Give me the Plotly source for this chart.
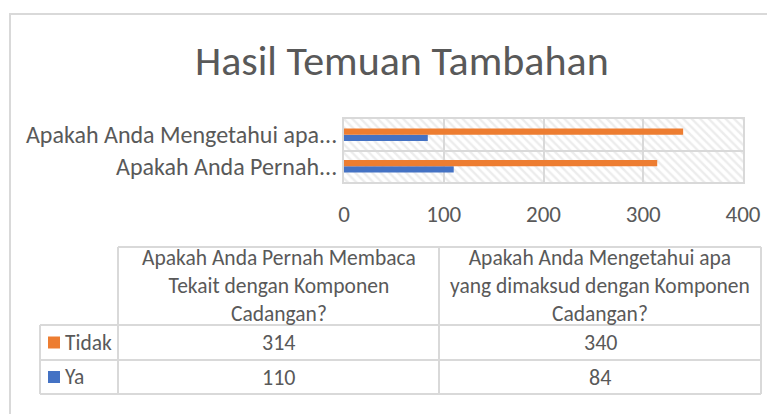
import plotly.graph_objects as go

# ---- data ----
categories = [
    "Apakah Anda Pernah Membaca Tekait dengan Komponen Cadangan?",
    "Apakah Anda Mengetahui apa yang dimaksud dengan Komponen Cadangan?",
]
axis_labels = ["Apakah Anda Pernah...", "Apakah Anda Mengetahui apa..."]
header_labels = [
    "Apakah Anda Pernah Membaca<br>Tekait dengan Komponen<br>Cadangan?",
    "Apakah Anda Mengetahui apa<br>yang dimaksud dengan Komponen<br>Cadangan?",
]
series_names = ["Tidak", "Ya"]
tidak = [314, 340]
ya = [110, 84]
x_ticks = [0, 100, 200, 300, 400]

# ---- styling ----
W, H = 775, 414          # viewport
OFF = 8                  # default page body margin
L, R, T, B = 344, 743, 119, 182   # plot area in page pixels
FONT = "Carlito, Calibri, Lato, sans-serif"
GRAY = "#595959"
GRID = "#D9D9D9"
ORANGE = "#ED7D31"
BLUE = "#4472C4"
FS_LAB = 24
FS_TICK = 23
FS_TAB = 21.5
FS_NUM = 22

def px2x(px):
    return (px - L) / (R - L)

def py2y(py):
    return (B - py) / (B - T)

fig = go.Figure()

# hatched plot-area background (one full band per category)
fig.add_trace(go.Bar(
    y=categories, x=[x_ticks[-1]] * len(categories), orientation="h",
    width=1, offset=-0.5,
    marker=dict(color=GRID, line=dict(width=0),
                pattern=dict(shape="\\", fgcolor=GRID, bgcolor="rgba(0,0,0,0)",
                             size=6, solidity=0.4)),
    hoverinfo="skip", showlegend=False,
))

fig.add_trace(go.Bar(
    y=categories, x=ya, orientation="h", name=series_names[1],
    width=0.2, offset=-0.2, marker=dict(color=BLUE, line=dict(width=0)),
    showlegend=False,
))
fig.add_trace(go.Bar(
    y=categories, x=tidak, orientation="h", name=series_names[0],
    width=0.2, offset=0.0, marker=dict(color=ORANGE, line=dict(width=0)),
    showlegend=False,
))

shapes = []
annotations = []

def hline(x0, x1, y):
    shapes.append(dict(type="line", xref="paper", yref="paper",
                       x0=px2x(x0), x1=px2x(x1), y0=py2y(y), y1=py2y(y),
                       line=dict(color=GRID, width=2)))

def vline(x, y0, y1):
    shapes.append(dict(type="line", xref="paper", yref="paper",
                       x0=px2x(x), x1=px2x(x), y0=py2y(y0), y1=py2y(y1),
                       line=dict(color=GRID, width=2)))

# outer chart border
shapes.append(dict(type="rect", xref="paper", yref="paper",
                   x0=px2x(10), x1=px2x(W + 6), y0=py2y(14), y1=py2y(H + 6),
                   line=dict(color=GRID, width=2), fillcolor="rgba(0,0,0,0)"))

# data table grid
tx0, tx1, tx2, tx3 = 40, 118, 439, 761
ty0, ty1, ty2, ty3 = 247, 325, 360, 394
hline(tx1, tx3, ty0)
hline(tx0, tx3, ty1)
hline(tx0, tx3, ty2)
hline(tx0, tx3, ty3)
vline(tx0, ty1, ty3)
vline(tx1, ty0, ty3)
vline(tx2, ty0, ty3)
vline(tx3, ty0, ty3)

col_centers = [(tx1 + tx2) / 2, (tx2 + tx3) / 2]
for cx, lab in zip(col_centers, header_labels):
    annotations.append(dict(xref="paper", yref="paper", x=px2x(cx), y=py2y((ty0 + ty1) / 2),
                            text=lab, showarrow=False, xanchor="center", yanchor="middle",
                            font=dict(family=FONT, size=FS_TAB, color=GRAY)))

rows = [(series_names[0], tidak, ORANGE, (ty1 + ty2) / 2),
        (series_names[1], ya, BLUE, (ty2 + ty3) / 2)]
for name, vals, col, cy in rows:
    shapes.append(dict(type="rect", xref="paper", yref="paper",
                       x0=px2x(48), x1=px2x(60), y0=py2y(cy - 6), y1=py2y(cy + 6),
                       line=dict(width=0), fillcolor=col))
    annotations.append(dict(xref="paper", yref="paper", x=px2x(63), y=py2y(cy),
                            text=name, showarrow=False, xanchor="left", yanchor="middle",
                            font=dict(family=FONT, size=FS_TAB, color=GRAY)))
    for cx, v in zip(col_centers, vals):
        annotations.append(dict(xref="paper", yref="paper", x=px2x(cx), y=py2y(cy),
                                text=str(v), showarrow=False, xanchor="center", yanchor="middle",
                                font=dict(family=FONT, size=FS_NUM, color=GRAY)))

# title
annotations.append(dict(xref="paper", yref="paper", x=px2x(402), y=py2y(61),
                        text="Hasil Temuan Tambahan", showarrow=False,
                        xanchor="center", yanchor="middle",
                        font=dict(family=FONT, size=42, color=GRAY)))

fig.update_layout(
    width=W - OFF, height=H - OFF,
    margin=dict(l=L - OFF, r=W - R, t=T - OFF, b=H - B, pad=0),
    paper_bgcolor="white", plot_bgcolor="white",
    barmode="overlay",
    shapes=shapes, annotations=annotations,
    font=dict(family=FONT, size=FS_NUM, color=GRAY),
    showlegend=False,
)
fig.update_xaxes(
    range=[x_ticks[0], x_ticks[-1]], tickvals=x_ticks,
    showgrid=True, gridcolor=GRID, gridwidth=2,
    showline=True, linecolor=GRID, linewidth=2, mirror=True,
    zeroline=False, ticks="outside", ticklen=10, tickcolor="rgba(0,0,0,0)",
    tickfont=dict(family=FONT, size=FS_TICK, color=GRAY),
)
fig.update_yaxes(
    type="category", categoryorder="array", categoryarray=categories,
    tickvals=categories, ticktext=axis_labels, range=[-0.5, 1.5],
    showgrid=True, gridcolor=GRID, gridwidth=2, tickson="boundaries",
    showline=True, linecolor=GRID, linewidth=2, mirror=True,
    zeroline=False, ticks="outside", ticklen=6, tickcolor="rgba(0,0,0,0)",
    tickfont=dict(family=FONT, size=FS_LAB, color=GRAY),
)

fig.write_html("out.html")
